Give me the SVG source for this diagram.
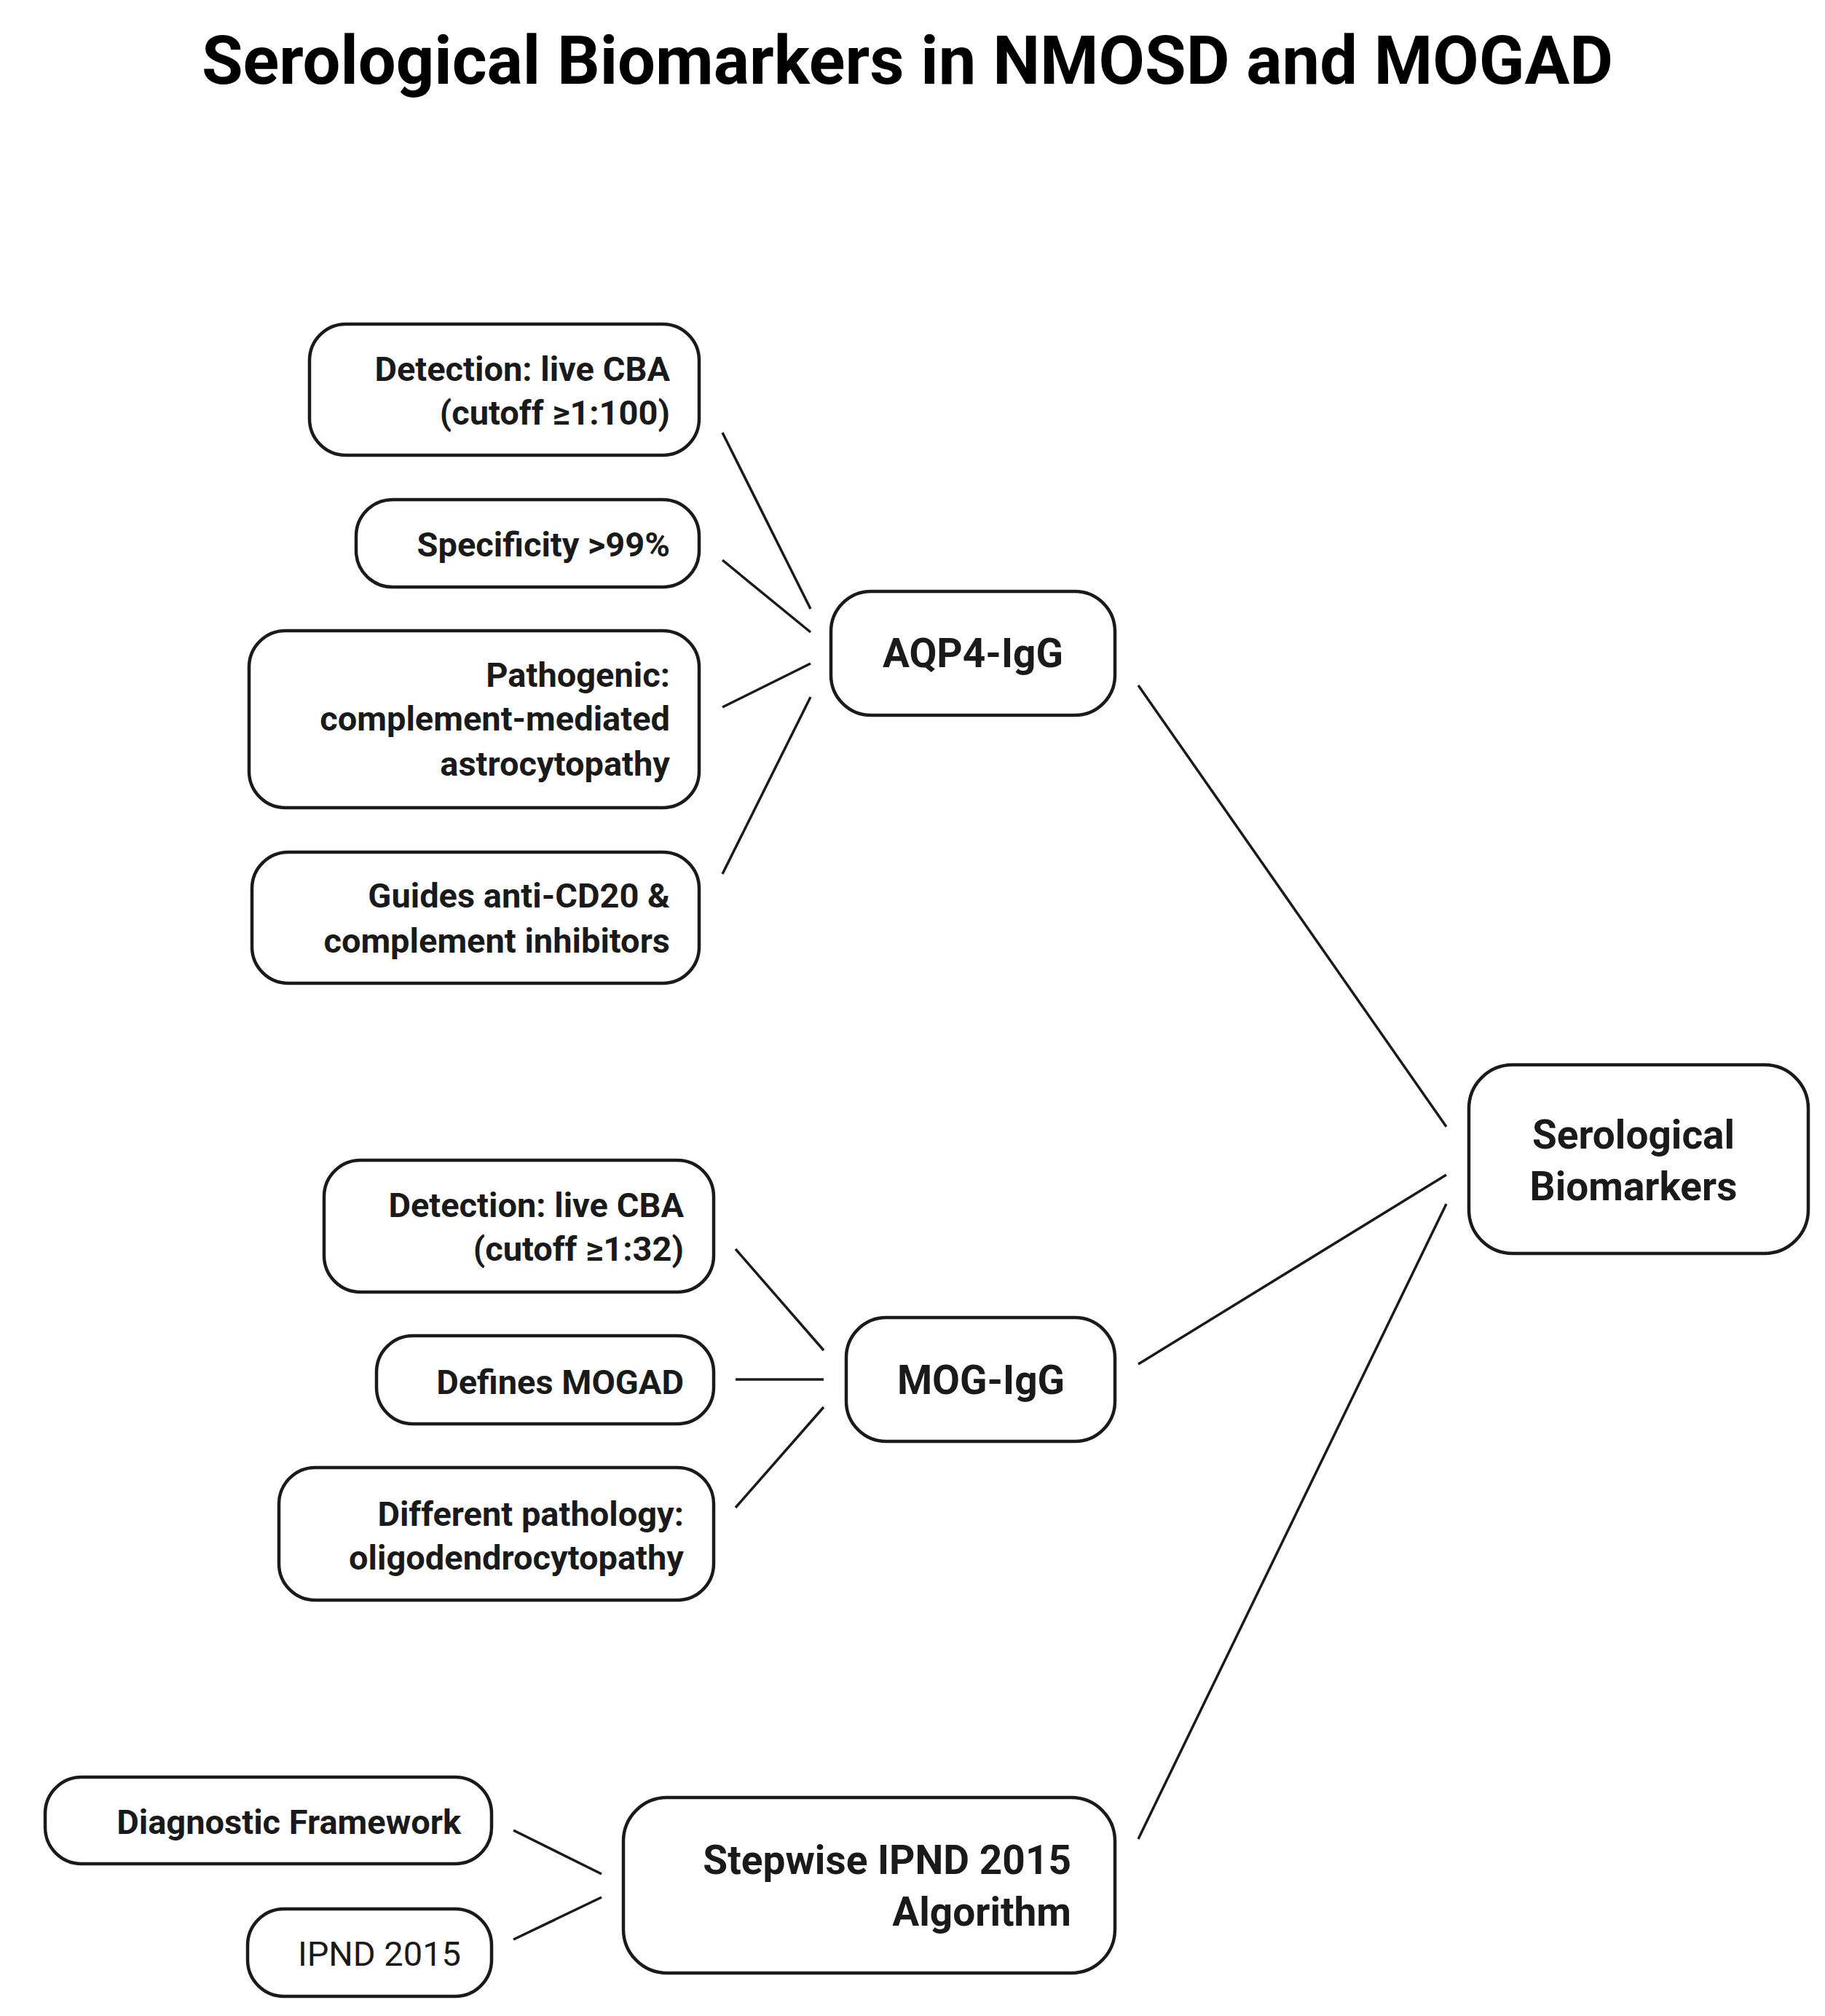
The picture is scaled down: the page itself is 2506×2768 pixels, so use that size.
<svg xmlns="http://www.w3.org/2000/svg" width="2506" height="2768" viewBox="0 0 2506 2768">
<style>
.n{fill:#fff;stroke:#1a1a1a;stroke-width:4.5}
.t{font-family:Roboto,"Liberation Sans",sans-serif;font-weight:bold;font-size:47px;fill:#1a1a1a;text-anchor:end}
.b{font-size:55px}
.c{text-anchor:middle}
.r{font-weight:normal}
.e{stroke:#1a1a1a;stroke-width:3.5;fill:none}
</style>
<rect width="2506" height="2768" fill="#fff"/>
<text x="1246" y="115" class="t c" style="font-size:92px;fill:#000">Serological Biomarkers in NMOSD and MOGAD</text>
<g id="connectors">
<line class="e" x1="992" y1="594" x2="1113" y2="836"/>
<line class="e" x1="992" y1="769" x2="1113" y2="868"/>
<line class="e" x1="992" y1="971" x2="1113" y2="911"/>
<line class="e" x1="992" y1="1200" x2="1113" y2="957"/>
<line class="e" x1="1563" y1="941" x2="1986" y2="1547"/>
<line class="e" x1="1563" y1="1873" x2="1986" y2="1613"/>
<line class="e" x1="1563" y1="2525" x2="1986" y2="1653"/>
<line class="e" x1="1010" y1="1715" x2="1131" y2="1854"/>
<line class="e" x1="1010" y1="1894" x2="1131" y2="1894"/>
<line class="e" x1="1010" y1="2070" x2="1131" y2="1932"/>
<line class="e" x1="705" y1="2513" x2="826" y2="2573"/>
<line class="e" x1="705" y1="2663" x2="826" y2="2605"/>
</g>
<g id="d1"><rect class="n" x="425" y="445" width="535" height="180" rx="50"/><text class="t" x="920" y="523">Detection: live CBA</text><text class="t" x="920" y="583">(cutoff ≥1:100)</text></g>
<g id="spec"><rect class="n" x="489" y="686" width="471" height="120" rx="50"/><text class="t" x="920" y="764">Specificity &gt;99%</text></g>
<g id="path"><rect class="n" x="342" y="866" width="618" height="243" rx="50"/><text class="t" x="920" y="943">Pathogenic:</text><text class="t" x="920" y="1003">complement-mediated</text><text class="t" x="920" y="1065">astrocytopathy</text></g>
<g id="guides"><rect class="n" x="346" y="1170" width="614" height="180" rx="50"/><text class="t" x="920" y="1246">Guides anti-CD20 &amp;</text><text class="t" x="920" y="1308">complement inhibitors</text></g>
<g id="aqp4"><rect class="n" x="1141" y="812" width="390" height="170" rx="55"/><text class="t b c" x="1336" y="916">AQP4-IgG</text></g>
<g id="sero"><rect class="n" x="2017" y="1462" width="466" height="259" rx="60"/><text class="t b c" x="2243" y="1577">Serological</text><text class="t b c" x="2243" y="1648">Biomarkers</text></g>
<g id="d2"><rect class="n" x="445" y="1593" width="535" height="181" rx="50"/><text class="t" x="939" y="1671">Detection: live CBA</text><text class="t" x="939" y="1731">(cutoff ≥1:32)</text></g>
<g id="defines"><rect class="n" x="517" y="1834" width="463" height="121" rx="50"/><text class="t" x="939" y="1914">Defines MOGAD</text></g>
<g id="diff"><rect class="n" x="383" y="2015" width="597" height="182" rx="50"/><text class="t" x="939" y="2095">Different pathology:</text><text class="t" x="939" y="2155">oligodendrocytopathy</text></g>
<g id="mog"><rect class="n" x="1162" y="1809" width="369" height="170" rx="55"/><text class="t b c" x="1347" y="1914">MOG-IgG</text></g>
<g id="stepwise"><rect class="n" x="856" y="2468" width="675" height="241" rx="60"/><text class="t b" x="1471" y="2573">Stepwise IPND 2015</text><text class="t b" x="1471" y="2644">Algorithm</text></g>
<g id="diagfw"><rect class="n" x="62" y="2440" width="613" height="119" rx="50"/><text class="t" x="633" y="2518">Diagnostic Framework</text></g>
<g id="ipnd"><rect class="n" x="340" y="2621" width="335" height="120" rx="50"/><text class="t r" x="633" y="2699">IPND 2015</text></g>
</svg>
